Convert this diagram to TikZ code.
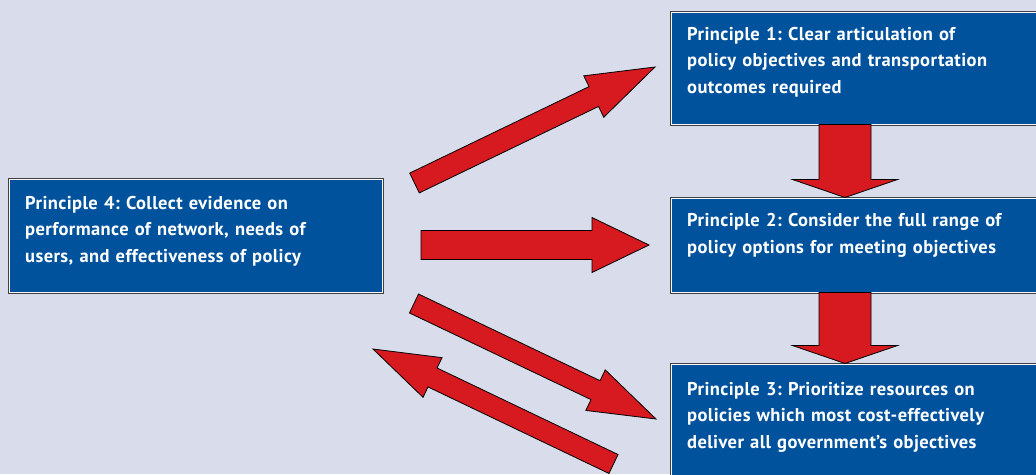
\documentclass[tikz,border=0pt]{standalone}
\usepackage{fontspec}
\setmainfont[LetterSpace=2.2]{PT Sans}
\usetikzlibrary{calc}
\frenchspacing
\definecolor{bgcol}{RGB}{216,220,235}
\definecolor{pblue}{RGB}{0,82,156}
\definecolor{pred}{RGB}{215,25,32}
% block arrow from (#2) to (#3): shaft half width, head half width, head length
\def\blockarrow[#1](#2)(#3)(#4:#5:#6){\draw[#1] ($(#2)!#4!90:(#3)$) -- ($(#3)!#6!(#2)!#4!-90:(#2)$) -- ($(#3)!#6!(#2)!#5!-90:(#2)$) -- (#3) -- ($(#3)!#6!(#2)!#5!90:(#2)$) -- ($(#3)!#6!(#2)!#4!90:(#2)$) -- ($(#2)!#4!-90:(#3)$) -- cycle;}
\tikzset{
	pbox/.style={rectangle, anchor=north west, inner sep=0, fill=pblue, draw=white!85!bgcol, line width=1pt, preaction={draw=black!75, line width=3pt}},
	ptext/.style={anchor=north west, inner sep=0, text width=360pt, align=left, text=white, font=\fontsize{18.5}{26.5}\selectfont\bfseries},
	redarrow/.style={fill=pred, draw=black, line width=0.8pt, line join=miter}
}
\begin{document}
\begin{tikzpicture}[x=1pt, y=-1pt]
			%%%%% START %%%%%
			
			\useasboundingbox (0, 0) rectangle (1036, 474);
			\clip (0, 0) rectangle (1036, 474);
			\fill[bgcol] (0, 0) rectangle (1036, 474);
			
			% principle boxes
			\node[pbox, minimum width=383pt, minimum height=112pt] (p1) at (670.5, 11.5) {};
			\node[pbox, minimum width=383pt, minimum height=94pt] (p2) at (670.5, 197.5) {};
			\node[pbox, minimum width=383pt, minimum height=130pt] (p3) at (670.5, 363.5) {};
			\node[pbox, minimum width=373pt, minimum height=113pt] (p4) at (8.5, 178.5) {};
			
			\node[ptext] (p1t) at ([shift={(16.5, 15.5)}]p1.north west) {Principle 1: Clear articulation of\\ policy objectives and transportation\\ outcomes required};
			\node[ptext] (p2t) at ([shift={(16.5, 16)}]p2.north west) {Principle 2: Consider the full range of\\ policy options for meeting objectives};
			\node[ptext] (p3t) at ([shift={(16.5, 18.5)}]p3.north west) {Principle 3: Prioritize resources on\\ policies which most cost-effectively\\ deliver all government's objectives};
			\node[ptext] (p4t) at ([shift={(16.5, 17.5)}]p4.north west) {Principle 4: Collect evidence on\\ performance of network, needs of\\ users, and effectiveness of policy};
			
			% arrow ends
			\coordinate (up-tail) at (414.5, 183);
			\coordinate (up-tip) at (655, 67);
			\coordinate (mid-tail) at (421, 0 |- p2.west);
			\coordinate (mid-tip) at (649, 0 |- p2.west);
			\coordinate (down-tail) at (414, 303.5);
			\coordinate (down-tip) at (656, 419);
			\coordinate (back-tail) at (613.5, 464);
			\coordinate (back-tip) at (373, 349);
			
			\blockarrow[redarrow](845, 0 |- p1.south)(845, 0 |- p2.north)(26pt:52.5pt:18pt)
			\blockarrow[redarrow](845, 0 |- p2.south)(845, 0 |- p3.north)(26pt:52.5pt:18pt)
			
			\blockarrow[redarrow](up-tail)(up-tip)(11pt:23pt:68pt)
			\blockarrow[redarrow](mid-tail)(mid-tip)(14.5pt:27.5pt:57pt)
			\blockarrow[redarrow](down-tail)(down-tip)(10.5pt:22.5pt:67pt)
			\blockarrow[redarrow](back-tail)(back-tip)(10.5pt:22pt:66pt)
			
			%%%%% END %%%%%
\end{tikzpicture}
\end{document}
